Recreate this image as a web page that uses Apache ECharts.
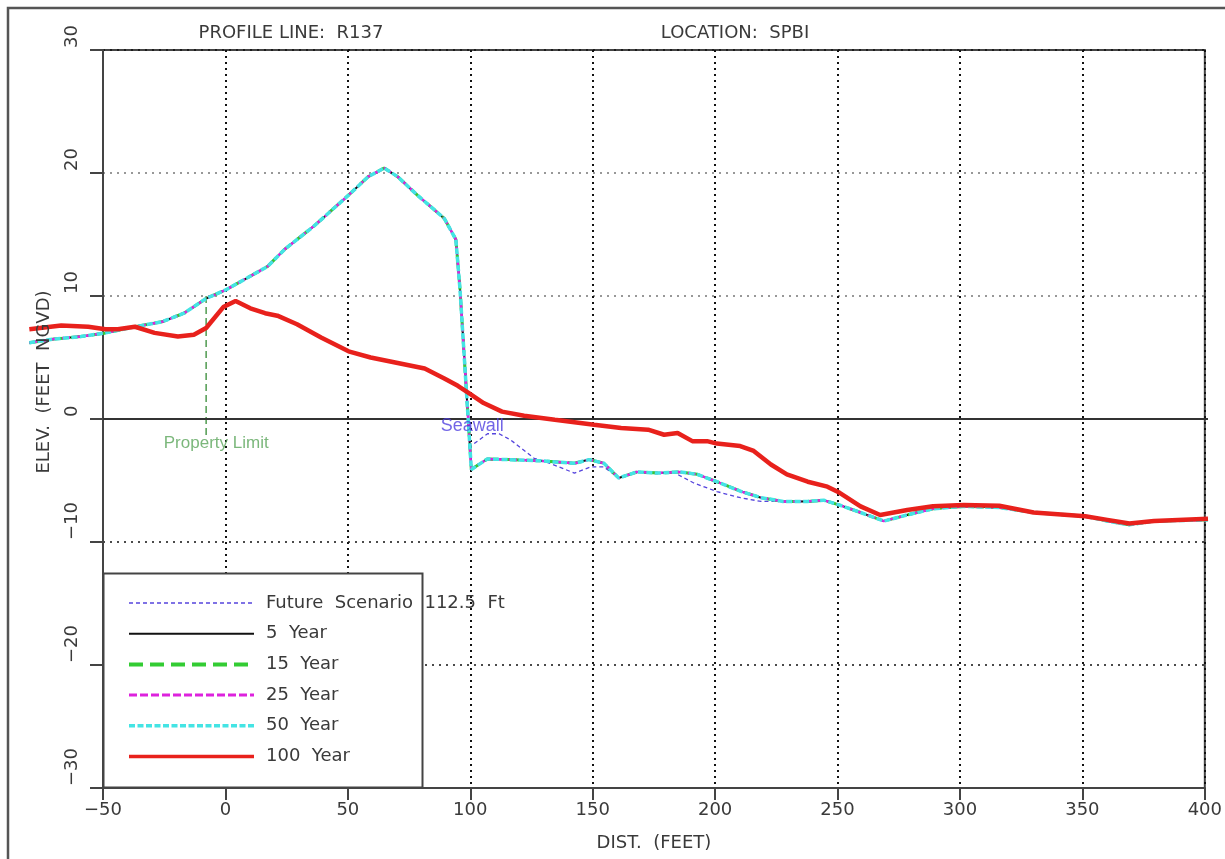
<!DOCTYPE html>
<html>
<head>
<meta charset="utf-8">
<title>Profile Line R137 - SPBI</title>
<script src="https://cdn.jsdelivr.net/npm/echarts@6/dist/echarts.min.js"></script>
<style>
  html, body { margin: 0; padding: 0; background: #ffffff; }
  #chart { width: 1225px; height: 859px; }
</style>
</head>
<body>
<div id="chart"></div>
<script>
// Beach profile, distance (ft) vs elevation (ft NGVD)
const profileDist = [-80, -70, -59, -49, -37, -26, -17, -8, 0, 9, 17, 24, 36, 50, 58, 64.5, 70, 78, 85, 89, 93.7, 95.4, 100, 106.5, 115, 128, 142, 148, 154, 160, 167.5, 176, 185, 192, 200, 210, 218, 227, 237, 243.5, 250, 258.5, 268, 277.5, 288, 300.5, 315, 329, 350, 359, 368, 378, 400];
const profileElev = [6.2, 6.5, 6.7, 7.0, 7.5, 7.9, 8.6, 9.8, 10.5, 11.5, 12.4, 13.8, 15.7, 18.2, 19.7, 20.4, 19.7, 18.2, 17.0, 16.3, 14.6, 10.5, -4.1, -3.25, -3.3, -3.4, -3.6, -3.3, -3.6, -4.8, -4.3, -4.4, -4.3, -4.5, -5.1, -5.9, -6.4, -6.7, -6.7, -6.6, -7.0, -7.6, -8.3, -7.8, -7.3, -7.1, -7.2, -7.6, -7.9, -8.3, -8.6, -8.3, -8.2];

const futureDist = [-80, -70, -59, -49, -37, -26, -17, -8, 0, 9, 17, 24, 36, 50, 58, 64.5, 70, 78, 85, 89, 93.7, 95.4, 99.8, 106.6, 111.3, 116, 125.6, 132, 142, 148.6, 154, 160, 167.5, 176, 183, 190.6, 200, 209.6, 218, 227, 237, 243.5, 250, 258.5, 268, 277.5, 288, 300.5, 315, 329, 350, 359, 368, 378, 400];
const futureElev = [6.2, 6.5, 6.7, 7.0, 7.5, 7.9, 8.6, 9.8, 10.5, 11.5, 12.4, 13.8, 15.7, 18.2, 19.7, 20.4, 19.7, 18.2, 17.0, 16.3, 14.6, 10.5, -2.2, -1.2, -1.2, -1.7, -3.2, -3.6, -4.4, -3.9, -3.9, -4.8, -4.3, -4.4, -4.4, -5.2, -5.9, -6.4, -6.7, -6.7, -6.7, -6.6, -7.0, -7.6, -8.3, -7.8, -7.3, -7.1, -7.2, -7.6, -7.9, -8.3, -8.6, -8.3, -8.2];

const year100Dist = [-80, -67, -56, -49, -44, -37, -29, -19.5, -13, -8, -1, 4, 10, 16, 21, 29, 39, 50, 59, 70, 81, 89, 94.5, 99, 105, 112.5, 121.5, 134, 150, 161, 172, 178.5, 184, 190, 196, 200, 209.5, 215, 222, 228.5, 237, 245, 250, 258.5, 266.5, 277.5, 288, 300.5, 315, 329, 350, 359, 368, 378, 400];
const year100Elev = [7.3, 7.6, 7.5, 7.3, 7.3, 7.5, 7.0, 6.7, 6.85, 7.4, 9.1, 9.6, 9.0, 8.6, 8.4, 7.7, 6.6, 5.5, 5.0, 4.55, 4.1, 3.3, 2.7, 2.1, 1.3, 0.6, 0.27, -0.06, -0.46, -0.73, -0.87, -1.28, -1.14, -1.8, -1.8, -2.0, -2.2, -2.6, -3.7, -4.5, -5.1, -5.5, -6.0, -7.1, -7.8, -7.4, -7.1, -7.0, -7.05, -7.6, -7.9, -8.2, -8.5, -8.3, -8.1];

const propertyLimitDist = [-8, -8];
const propertyLimitElev = [10, -1.3];

const seriesNames = ['Future  Scenario  112.5  Ft', '5  Year', '15  Year', '25  Year', '50  Year', '100  Year'];
const distTicks = { min: -50, max: 400, step: 50 };
const surveyStart = -80;          // landward end of the surveyed profile
const elevTicks = { min: -30, max: 30, step: 10 };

const pairs = (xs, ys) => xs.map((x, i) => [x, ys[i]]);
const fmt = v => (v < 0 ? '\u2212' + Math.abs(v) : String(v));

const AXIS_FONT = '"DejaVu Sans", sans-serif';
const NOTE_FONT = '"Liberation Sans", Arial, sans-serif';
const INK = '#3a3a3a';

// Plot frame geometry: the profile runs landward past the -50 ft axis,
// so lines live on a second, wider grid sharing the same scale.
const PLOT = { left: 103, right: 17, top: 50, bottom: 71 };
const plotWidth = 1225 - PLOT.left - PLOT.right;
const pxPerFt = plotWidth / (distTicks.max - distTicks.min);
const dataLeft = PLOT.left - (distTicks.min - surveyStart) * pxPerFt;

// line look per scenario: colour, width, dash, legend width
const styles = [
  { color: '#5544dd', width: 1.3, dash: [4, 3], legendWidth: 1.5 },
  { color: '#111111', width: 2, dash: 'solid', legendWidth: 2 },
  { color: '#33cc33', width: 3, dash: [14, 7], legendWidth: 4 },
  { color: '#dd22dd', width: 2.5, dash: [8, 3], legendWidth: 3 },
  { color: '#44e4e4', width: 3.5, dash: [6, 2.5], legendWidth: 3.5 },
  { color: '#e8211c', width: 4.5, dash: 'solid', legendWidth: 3.5 }
];

function profileSeries(i, xs, ys) {
  const s = styles[i];
  return {
    name: seriesNames[i],
    type: 'line',
    xAxisIndex: 1,
    yAxisIndex: 1,
    data: pairs(xs, ys),
    symbol: 'none',
    clip: false,
    silent: true,
    z: 2 + i,
    lineStyle: { color: s.color, width: s.width, type: s.dash },
    itemStyle: { color: s.color }
  };
}

const chart = echarts.init(document.getElementById('chart'), null, { renderer: 'canvas' });

const series = [
  profileSeries(0, futureDist, futureElev),
  Object.assign(profileSeries(1, profileDist, profileElev), {
    markLine: {
      silent: true,
      symbol: 'none',
      label: { show: false },
      lineStyle: { color: '#333333', type: 'solid', width: 2 },
      data: [[{ coord: [distTicks.min, 0] }, { coord: [distTicks.max, 0] }]]
    }
  }),
  profileSeries(2, profileDist, profileElev),
  profileSeries(3, profileDist, profileElev),
  profileSeries(4, profileDist, profileElev),
  profileSeries(5, year100Dist, year100Elev),
  {
    name: 'Property Limit',
    type: 'line',
    xAxisIndex: 1,
    yAxisIndex: 1,
    data: pairs(propertyLimitDist, propertyLimitElev),
    symbol: 'none',
    silent: true,
    z: 3,
    lineStyle: { color: '#4f9a4f', width: 1.5, type: [7, 4] }
  },
  {
    name: 'Property Limit Label',
    type: 'scatter',
    xAxisIndex: 1,
    yAxisIndex: 1,
    data: [[-3.9, -2.0]],
    symbolSize: 0,
    silent: true,
    z: 8,
    label: {
      show: true, position: 'inside', formatter: 'Property Limit',
      color: '#5aa55a', fontFamily: NOTE_FONT, fontSize: 17
    }
  },
  {
    name: 'Seawall Label',
    type: 'scatter',
    xAxisIndex: 1,
    yAxisIndex: 1,
    data: [[100.4, -0.55]],
    symbolSize: 0,
    silent: true,
    z: 8,
    label: {
      show: true, position: 'inside', formatter: 'Seawall',
      color: '#4f3fe0', fontFamily: NOTE_FONT, fontSize: 18
    }
  }
];

chart.setOption({
  animation: false,
  backgroundColor: '#ffffff',
  grid: [
    {
      left: PLOT.left, right: PLOT.right, top: PLOT.top, bottom: PLOT.bottom,
      show: true, borderColor: '#444444', borderWidth: 2, backgroundColor: 'transparent'
    },
    {
      left: dataLeft, right: PLOT.right, top: PLOT.top, bottom: PLOT.bottom,
      show: false
    }
  ],
  xAxis: [
    {
      type: 'value',
      gridIndex: 0,
      min: distTicks.min, max: distTicks.max, interval: distTicks.step,
      name: 'DIST.  (FEET)',
      nameLocation: 'middle',
      nameGap: 46,
      nameTextStyle: { color: INK, fontFamily: AXIS_FONT, fontSize: 18 },
      axisLine: { show: true, onZero: false, lineStyle: { color: '#444444', width: 2 } },
      axisTick: { show: true, inside: false, length: 12, lineStyle: { color: '#444444', width: 2 } },
      axisLabel: {
        margin: 13,
        formatter: v => '{a|' + fmt(v) + '}',
        rich: { a: { width: 46, color: INK, fontFamily: AXIS_FONT, fontSize: 18 } }
      },
      splitLine: { show: true, lineStyle: { color: '#111111', width: 2, type: [2, 4] } }
    },
    {
      type: 'value',
      gridIndex: 1,
      min: surveyStart, max: distTicks.max,
      show: false
    }
  ],
  yAxis: [
    {
      type: 'value',
      gridIndex: 0,
      min: elevTicks.min, max: elevTicks.max, interval: elevTicks.step,
      axisLine: { show: true, onZero: false, lineStyle: { color: '#444444', width: 2 } },
      axisTick: { show: true, inside: false, length: 13, lineStyle: { color: '#444444', width: 2 } },
      axisLabel: {
        rotate: 90, margin: 31, align: 'left', verticalAlign: 'middle',
        padding: [0, 0, 0, 2],
        formatter: fmt,
        color: INK, fontFamily: AXIS_FONT, fontSize: 18
      },
      splitLine: {
        show: true,
        lineStyle: {
          color: ['#111111', '#111111', '#111111', '#111111', '#777777', '#777777', '#111111'],
          width: 1.6, type: [2, 5]
        }
      }
    },
    {
      type: 'value',
      gridIndex: 1,
      min: elevTicks.min, max: elevTicks.max, interval: elevTicks.step,
      show: false
    }
  ],
  legend: {
    data: seriesNames.map((name, i) => ({ name: name, lineStyle: { width: styles[i].legendWidth } })),
    orient: 'vertical',
    left: 127, top: 594,
    padding: 0,
    itemWidth: 125,
    itemHeight: 14,
    itemGap: 12.7,
    selectedMode: false,
    itemStyle: { opacity: 0 },
    textStyle: { color: INK, fontFamily: AXIS_FONT, fontSize: 18, lineHeight: 18, padding: [0, 0, 0, 7] }
  },
  graphic: [
    { type: 'rect', z: 0, silent: true,
      shape: { x: 8, y: 8, width: 1240, height: 900 },
      style: { fill: 'none', stroke: '#555555', lineWidth: 2.5 } },
    { type: 'rect', z: 3, silent: true,
      shape: { x: 103.5, y: 573.5, width: 319, height: 214 },
      style: { fill: '#ffffff', stroke: '#444444', lineWidth: 2 } },
    { type: 'text', z: 10, silent: true, x: 291, y: 33,
      style: { text: 'PROFILE LINE:  R137', align: 'center', verticalAlign: 'middle',
               fill: INK, fontFamily: AXIS_FONT, fontSize: 18 } },
    { type: 'text', z: 10, silent: true, x: 735, y: 33,
      style: { text: 'LOCATION:  SPBI', align: 'center', verticalAlign: 'middle',
               fill: INK, fontFamily: AXIS_FONT, fontSize: 18 } },
    { type: 'text', z: 10, silent: true, x: 44, y: 382, rotation: Math.PI / 2,
      style: { text: 'ELEV.  (FEET  NGVD)', align: 'center', verticalAlign: 'middle',
               fill: INK, fontFamily: AXIS_FONT, fontSize: 18 } }
  ],
  series: series
});
</script>
</body>
</html>
